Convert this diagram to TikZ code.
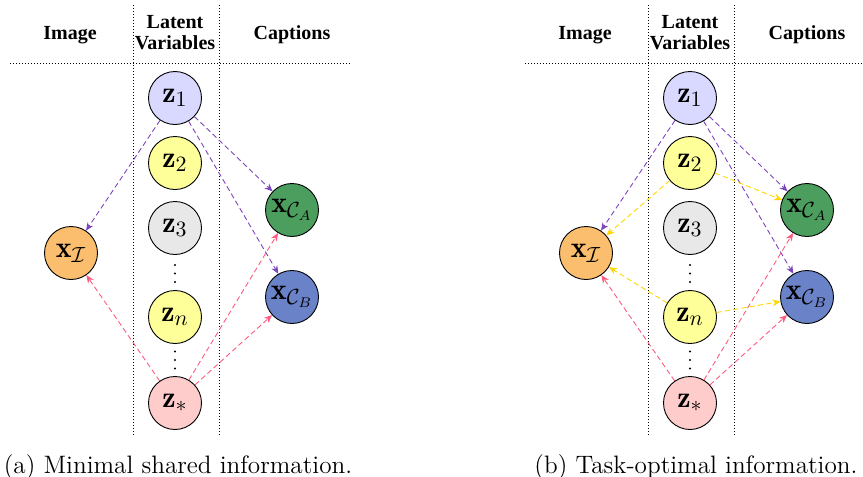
\documentclass[tikz,border=0pt]{standalone}
\usepackage{fontspec}
\newfontfamily\headfont{Liberation Serif}
\usetikzlibrary{arrows.meta}

\definecolor{zonecol}{RGB}{217,217,255}
\definecolor{zyellow}{RGB}{255,255,153}
\definecolor{zgray}{RGB}{232,232,232}
\definecolor{zpink}{RGB}{255,204,204}
\definecolor{ximg}{RGB}{251,190,110}
\definecolor{xcapa}{RGB}{76,158,94}
\definecolor{xcapb}{RGB}{106,130,200}
\definecolor{epurple}{RGB}{125,68,190}
\definecolor{epink}{RGB}{255,90,125}
\definecolor{eyellow}{RGB}{255,215,0}

\tikzset{
  var/.style={circle, draw=black, line width=0.45pt, minimum size=26.5pt, inner sep=0pt,
              font=\fontsize{15}{18}\selectfont},
  head/.style={font=\headfont\bfseries, align=center},
  sep/.style={densely dotted, line width=0.5pt},
  flow/.style={dash pattern=on 2.6pt off 1.6pt, line width=0.45pt,
               -{Stealth[length=4pt,width=3.4pt]}},
  capt/.style={font=\fontsize{12.6}{15}\selectfont, anchor=base}
}

% Three stacked dots (a vertical ellipsis) centred at the given point.
\newcommand{\stackdots}[1]{%
  \fill (#1) ++(0,-8.5) circle[radius=0.6pt] ++(0,8.5) circle[radius=0.6pt]
             ++(0,8.5) circle[radius=0.6pt];
}

% One panel: headers and the latent / observed variables with the shared edges.
\newcommand{\latentpanel}[1]{%
  \node[head] (#1hImg) at (70,35) {Image};
  \node[head] (#1hLat) at (175,33) {Latent\\[-1.5pt]Variables};
  \node[head] (#1hCap) at (292,35) {Captions};
  \node[var, fill=zonecol] (#1z1) at (175,98) {$\mathbf{z}_1$};
  \node[var, fill=zyellow] (#1z2) at (175,163) {$\mathbf{z}_2$};
  \node[var, fill=zgray]   (#1z3) at (175,228) {$\mathbf{z}_3$};
  \coordinate (#1d1) at (175,273.5);
  \stackdots{#1d1}
  \node[var, fill=zyellow] (#1zn) at (175,317) {$\mathbf{z}_n$};
  \coordinate (#1d2) at (175,360);
  \stackdots{#1d2}
  \node[var, fill=zpink]   (#1zs) at (175,403) {$\mathbf{z}_*$};
  \node[var, fill=ximg]  (#1xI) at (71,253) {$\mathbf{x}_{\mathcal{I}}$};
  \node[var, fill=xcapa] (#1xA) at (292,210) {$\mathbf{x}_{\mathcal{C}_A}$};
  \node[var, fill=xcapb] (#1xB) at (292,297) {$\mathbf{x}_{\mathcal{C}_B}$};
  \draw[flow, epurple] (#1z1) -- (#1xI);
  \draw[flow, epurple] (#1z1) -- (#1xA);
  \draw[flow, epurple] (#1z1) -- (#1xB);
  \draw[flow, epink] (#1zs) -- (#1xI);
  \draw[flow, epink] (#1zs) -- (#1xA);
  \draw[flow, epink] (#1zs) -- (#1xB);
}

\begin{document}
\begin{tikzpicture}[x=0.5pt, y=-0.5pt]
\useasboundingbox (0,0) rectangle (863,477);

% separators, drawn first so the circles sit on top
\coordinate (aL0) at (10,63);  \coordinate (aL1) at (352,63);
\coordinate (aV0) at (133,5);  \coordinate (aV1) at (133,435);
\coordinate (aW0) at (219,5);  \coordinate (aW1) at (219,435);
\draw[sep] (aL0) -- (aL1);
\draw[sep] (aV0) -- (aV1);
\draw[sep] (aW0) -- (aW1);
\coordinate (bL0) at (525,63);  \coordinate (bL1) at (863,63);
\coordinate (bV0) at (648,5);   \coordinate (bV1) at (648,435);
\coordinate (bW0) at (734,5);   \coordinate (bW1) at (734,435);
\draw[sep] (bL0) -- (bL1);
\draw[sep] (bV0) -- (bV1);
\draw[sep] (bW0) -- (bW1);

% (a) minimal shared information
\latentpanel{a}

% (b) task-optimal information
\begin{scope}[shift={(515,0)}]
  \latentpanel{b}
  \draw[flow, eyellow] (bz2) -- (bxI);
  \draw[flow, eyellow] (bz2) -- (bxA);
  \draw[flow, eyellow] (bzn) -- (bxI);
  \draw[flow, eyellow] (bzn) -- (bxB);
\end{scope}

% sub-captions
\node[capt] (capA) at (178,473) {(a) Minimal shared information.};
\node[capt] (capB) at (696,473) {(b) Task-optimal information.};
\end{tikzpicture}
\end{document}
